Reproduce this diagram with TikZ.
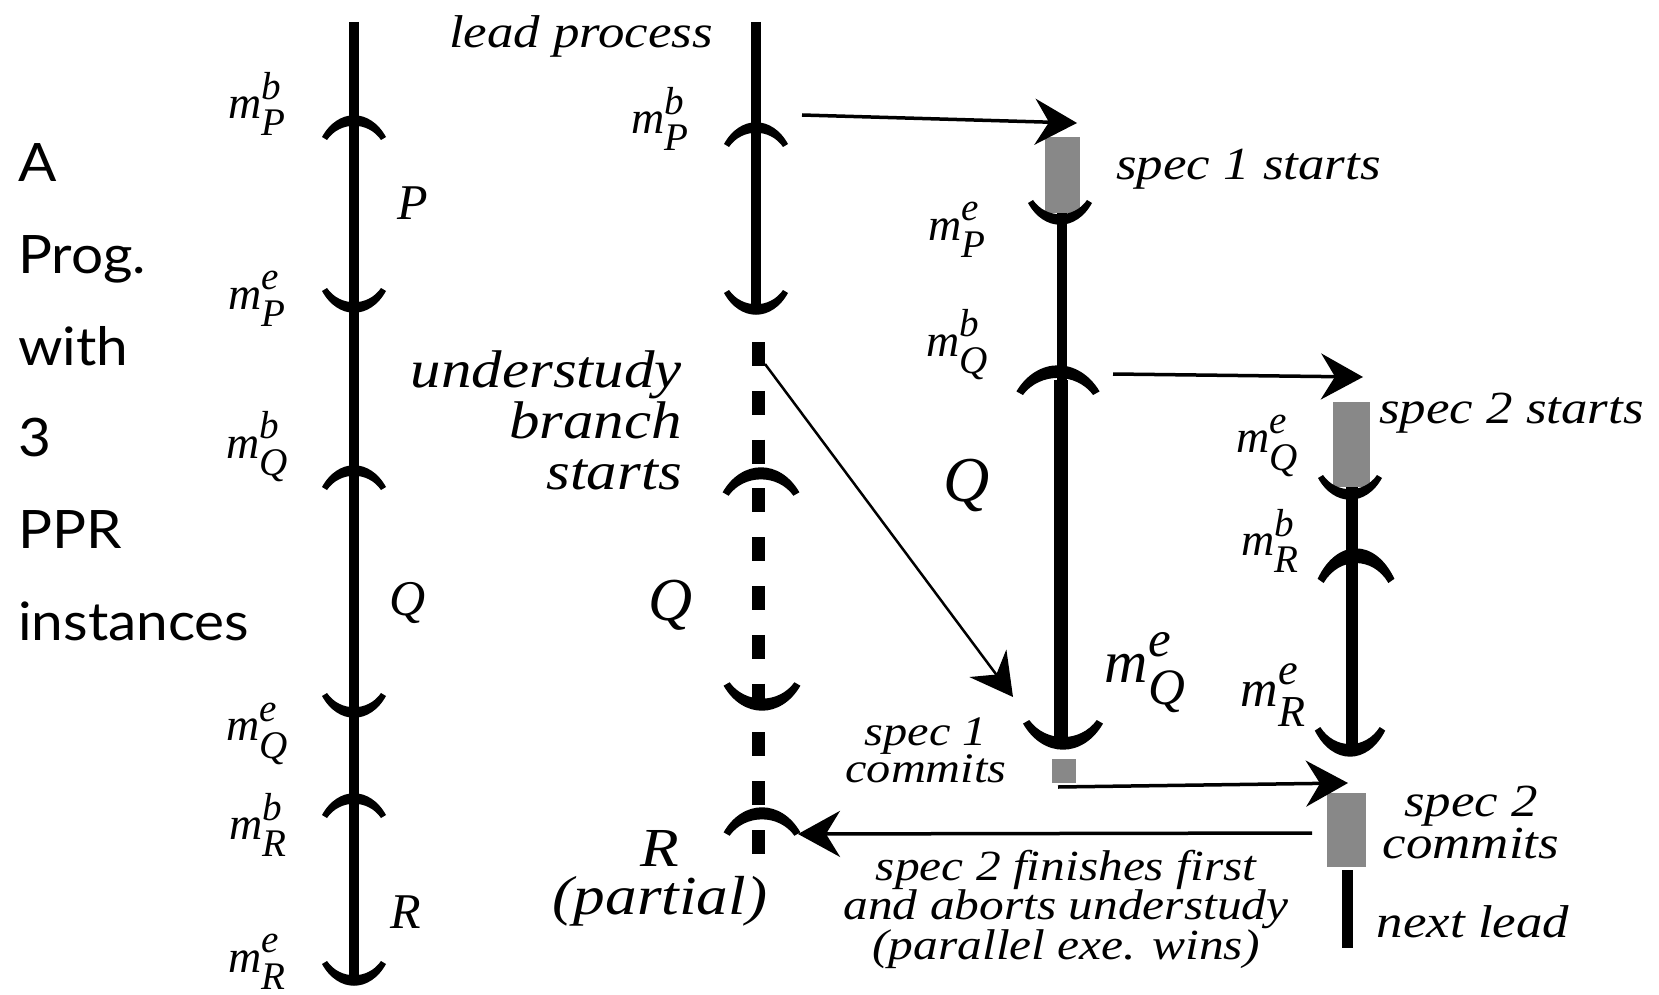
\documentclass[tikz,border=0pt]{standalone}
\usepackage{fontspec}
\setmainfont{Liberation Serif}
\newfontfamily\labfont[FakeStretch=1.15]{Liberation Serif}
\newfontfamily\gillfont[FakeStretch=1.07]{Lato}
\usetikzlibrary{arrows.meta}
\definecolor{specgray}{RGB}{136,136,136}

% m with a mark above and a process below
\newcommand{\mlab}[2]{\textit{m}\rlap{\raisebox{0.42em}{\scalebox{0.85}{\textit{#1}}}}%
  \raisebox{-0.38em}{\scalebox{0.85}{\textit{#2}}}}

\tikzset{
  arch/.pic={
    \fill (-32,22) .. controls (-16,-7) and (16,-7) .. (32,22)
      -- (27,25) .. controls (14,6) and (-14,6) .. (-27,25) -- cycle;
  },
  cup/.pic={
    \fill (-32,-22) .. controls (-16,7) and (16,7) .. (32,-22)
      -- (27,-25) .. controls (14,-6) and (-14,-6) .. (-27,-25) -- cycle;
  }
}

\begin{document}
\begin{tikzpicture}[
  x=1pt, y=-1pt,
  tl/.style={line width=10pt},
  tldash/.style={line width=13pt, dash pattern=on 24pt off 24.8pt},
  msg/.style={line width=3.5pt, -{Stealth[length=42pt,width=46pt,inset=14pt]}},
  specbox/.style={fill=specgray, inner sep=0pt},
  lab/.style={inner sep=0pt, font=\labfont\itshape\fontsize{46}{42}\selectfont},
  mk/.style={inner sep=0pt, font=\itshape\fontsize{46}{52}\selectfont},
  pname/.style={inner sep=0pt, font=\itshape\fontsize{50}{56}\selectfont}
]
  \useasboundingbox (0,0) rectangle (1659,995);

  % Title on the left
  \foreach \w [count=\i from 0] in {A,Prog.,with,3,PPR,instances}
    \node[inner sep=0pt, anchor=base west, font=\gillfont\fontsize{53}{60}\selectfont]
      (title\i) at (18,182+91.6*\i) {\w};

  % Program: P, Q, R one after another
  \draw[tl] (354,22) -- (354,984);
  \pic at (354,115) {arch};
  \pic at (354,313) {cup};
  \pic at (354,465) {arch};
  \pic at (354,718) {cup};
  \pic at (354,793) {arch};
  \pic at (354,986) {cup};

  \node[mk] (p1b) at (257,104) {\mlab{b}{P}};
  \node[mk] (p1e) at (257,299) {\mlab{e}{P}};
  \node[mk] (q1b) at (257,447) {\mlab{b}{Q}};
  \node[mk] (q1e) at (257,734) {\mlab{e}{Q}};
  \node[mk] (r1b) at (258,825) {\mlab{b}{R}};
  \node[mk] (r1e) at (257,962) {\mlab{e}{R}};
  \node[pname] (P1) at (413,203) {P};
  \node[pname] (Q1) at (408,603) {Q};
  \node[pname] (R1) at (406,912) {R};

  % Lead process and its understudy
  \draw[tl] (756,22) -- (756,313);
  \draw[tldash] (758,342) -- (758,855);
  \pic at (756,122) {arch};
  \pic at (756,315) {cup};
  \pic[xscale=1.2, yscale=1.15] at (761,467) {arch};
  \pic[xscale=1.2, yscale=1.15] at (762,711) {cup};
  \pic[xscale=1.2, yscale=1.15] at (762,807) {arch};

  \node[lab, anchor=base] (lead) at (581,48) {lead process};
  \node[mk] (p2b) at (660,119) {\mlab{b}{P}};
  \node[lab, font=\labfont\itshape\fontsize{53}{51}\selectfont, align=right, anchor=east]
    (ulab) at (682,420) {understudy\\branch\\starts};
  \node[pname, font=\itshape\fontsize{61}{66}\selectfont] (Q2) at (671,605) {Q};
  \node[lab, font=\labfont\itshape\fontsize{55}{48}\selectfont, align=center]
    (rlab) at (660,878) {R\\(partial)};

  % Spec 1
  \draw[tl] (1062,213) -- (1062,380);
  \draw[line width=14pt] (1061,380) -- (1061,748);
  \node[specbox, minimum width=35pt, minimum height=76pt] (s1b) at (1062.5,175) {};
  \node[specbox, minimum width=24pt, minimum height=24pt] (s1c) at (1064,771) {};
  \pic at (1060,225) {cup};
  \pic[xscale=1.3, yscale=1.2] at (1058,365) {arch};
  \pic[xscale=1.25, yscale=1.2] at (1063,750) {cup};

  \node[lab, anchor=base west] (s1lab) at (1116,180) {spec 1 starts};
  \node[mk] (p3e) at (957,230) {\mlab{e}{P}};
  \node[mk] (q3b) at (957,345) {\mlab{b}{Q}};
  \node[pname, font=\itshape\fontsize{64}{70}\selectfont] (Q3) at (967,485) {Q};
  \node[mk, font=\itshape\fontsize{60}{66}\selectfont] (q3e) at (1145,673) {\mlab{e}{Q}};
  \node[lab, font=\labfont\itshape\fontsize{42}{37}\selectfont, align=center]
    (c1lab) at (926,750) {spec 1\\commits};

  % Spec 2
  \draw[line width=12pt] (1352,487) -- (1352,755);
  \draw[line width=11pt] (1347,870) -- (1347,948);
  \node[specbox, minimum width=37pt, minimum height=85pt] (s2b) at (1351.5,444.5) {};
  \node[specbox, minimum width=39pt, minimum height=74pt] (s2c) at (1346.5,830) {};
  \pic at (1350,500) {cup};
  \pic[xscale=1.2, yscale=1.4] at (1356,548) {arch};
  \pic[xscale=1.1, yscale=1.2] at (1350,757) {cup};

  \node[lab, anchor=base west] (s2lab) at (1379,423) {spec 2 starts};
  \node[mk] (q4e) at (1267,446) {\mlab{e}{Q}};
  \node[mk] (r4b) at (1270,541) {\mlab{b}{R}};
  \node[mk, font=\itshape\fontsize{52}{58}\selectfont] (r4e) at (1273,695) {\mlab{e}{R}};
  \node[lab, align=center] (c2lab) at (1471,822) {spec 2\\commits};
  \node[lab, anchor=base] (next) at (1473,937) {next lead};
  \node[lab, font=\labfont\itshape\fontsize{43}{39}\selectfont, align=center]
    (win) at (1066,909) {spec 2 finishes first\\and aborts understudy\\(parallel exe. wins)};

  % Messages between the processes
  \coordinate (a1s) at (802,115);
  \coordinate (a1e) at (1077,123);
  \coordinate (a2s) at (1113,374);
  \coordinate (a2e) at (1363,377);
  \coordinate (a3s) at (765,364);
  \coordinate (a3e) at (1013,697);
  \coordinate (a4s) at (1058,787);
  \coordinate (a4e) at (1348,783);
  \coordinate (a5s) at (1312,833);
  \coordinate (a5e) at (798,834);

  \draw[msg] (a1s) -- (a1e);
  \draw[msg] (a2s) -- (a2e);
  \draw[msg, line width=2.5pt] (a3s) -- (a3e);
  \draw[msg] (a4s) -- (a4e);
  \draw[msg] (a5s) -- (a5e);
\end{tikzpicture}
\end{document}
